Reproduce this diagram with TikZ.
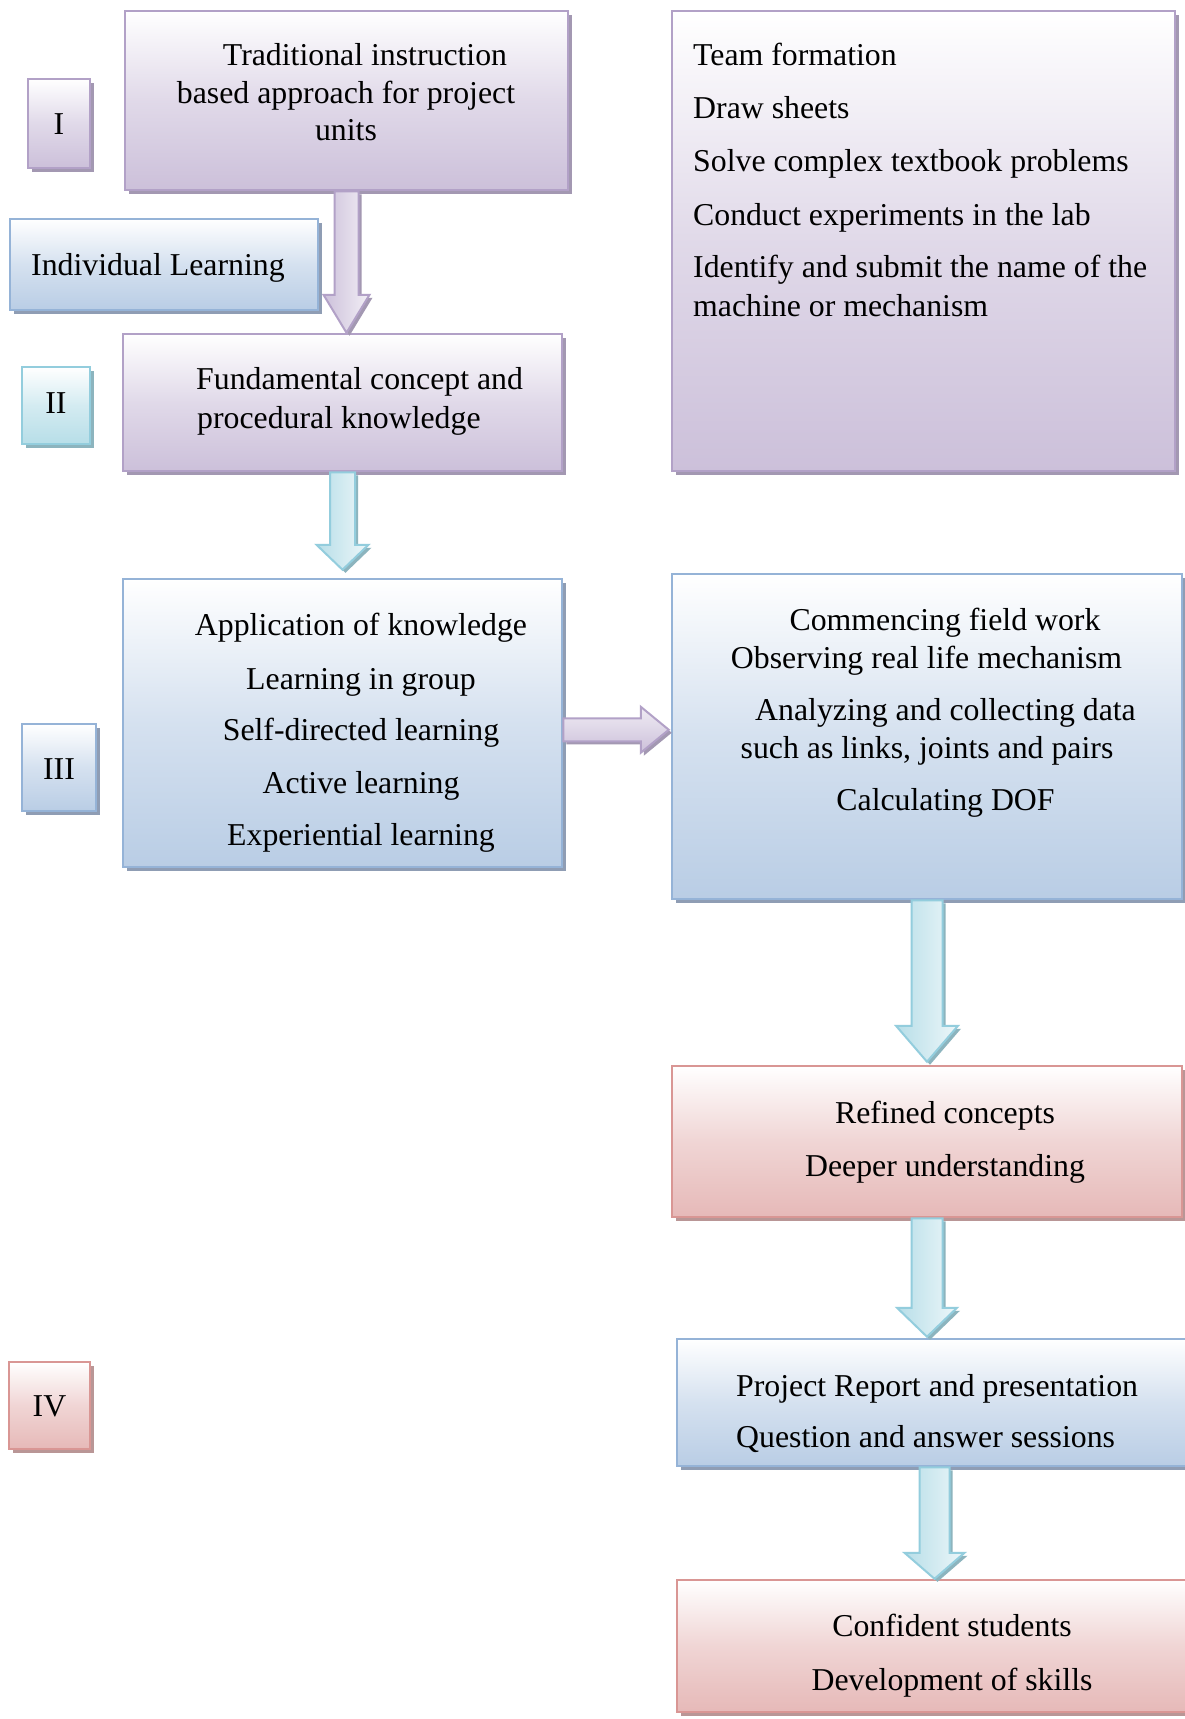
\documentclass[tikz,border=0pt]{standalone}
\usepackage{fontspec}
\setmainfont{Liberation Serif}
\usetikzlibrary{calc,shadows}
\definecolor{pb}{RGB}{204,192,218}
\definecolor{pbd}{RGB}{178,161,199}
\definecolor{psh}{RGB}{163,152,178}
\definecolor{bb}{RGB}{185,205,229}
\definecolor{bbd}{RGB}{149,179,215}
\definecolor{bsh}{RGB}{143,157,180}
\definecolor{rb}{RGB}{230,185,184}
\definecolor{rbd}{RGB}{217,150,148}
\definecolor{rsh}{RGB}{185,150,150}
\definecolor{ab}{RGB}{183,222,232}
\definecolor{abd}{RGB}{147,205,221}
\definecolor{ash}{RGB}{140,180,190}
\tikzset{
  boxbase/.style={rectangle, inner sep=0pt, line width=2.5pt, top color=white},
  pbox/.style={boxbase, draw=pbd, bottom color=pb, middle color=pb!60!white,
    general shadow={fill=psh, shadow xshift=4pt, shadow yshift=-4pt}},
  bbox/.style={boxbase, draw=bbd, bottom color=bb, middle color=bb!60!white,
    general shadow={fill=bsh, shadow xshift=4pt, shadow yshift=-4pt}},
  rbox/.style={boxbase, draw=rbd, bottom color=rb, middle color=rb!60!white,
    general shadow={fill=rsh, shadow xshift=4pt, shadow yshift=-4pt}},
  abox/.style={boxbase, draw=abd, bottom color=ab, middle color=ab!60!white,
    general shadow={fill=ash, shadow xshift=4pt, shadow yshift=-4pt}},
  parr/.style={draw=pbd, line width=2pt, line join=miter, left color=pb, right color=pb!25!white,
    general shadow={fill=psh, shadow xshift=3pt, shadow yshift=-3pt}},
  parrh/.style={draw=pbd, line width=2pt, line join=miter, top color=pb!30!white, bottom color=pb,
    general shadow={fill=psh, shadow xshift=3pt, shadow yshift=-3pt}},
  aarr/.style={draw=abd, line width=2pt, line join=miter, left color=ab, right color=ab!25!white,
    general shadow={fill=ash, shadow xshift=3pt, shadow yshift=-3pt}},
  txt/.style={inner sep=0pt, font=\fontsize{31.8pt}{38pt}\selectfont},
}
% box from corners (pixel coordinates, y downwards)
\newcommand\bx[6]{\node[#2, minimum width={(#5-#3)*1pt}, minimum height={(#6-#4)*1pt}] (#1) at ({(#3+#5)/2},{(#4+#6)/2}) {};}
% down block arrow: from, to, style, shaft half, head half, head length, gap
\newcommand\dnarr[7]{%
  \path[#3] let \p1=(#1.south), \p2=(#2.north) in
   (\x1-#4,\y1) -- (\x1-#4,\y2+#7+#6) -- (\x1-#5,\y2+#7+#6) -- (\x1,\y2+#7)
   -- (\x1+#5,\y2+#7+#6) -- (\x1+#4,\y2+#7+#6) -- (\x1+#4,\y1) -- cycle;}
% right block arrow: from, to, style, shaft half, head half, head length
\newcommand\rtarr[6]{%
  \path[#3] let \p1=(#1.east), \p2=(#2.west), \p3=($(#1.east)!.5!(#2.west)$) in
   (\x1,\y3+#4) -- (\x2-#6,\y3+#4) -- (\x2-#6,\y3+#5) -- (\x2-2pt,\y3)
   -- (\x2-#6,\y3-#5) -- (\x2-#6,\y3-#4) -- (\x1,\y3-#4) -- cycle;}
\begin{document}
\begin{tikzpicture}[x=1pt,y=-1pt]
\useasboundingbox (0,0) rectangle (1184,1719);
\fill[white] (0,0) rectangle (1184,1719);

% boxes
\bx{LI}{pbox}{28}{79}{90}{168}
\bx{T}{pbox}{125}{11}{568}{190}
\bx{R}{pbox}{672}{11}{1175}{471}
\bx{IL}{bbox}{10}{219}{318}{310}
\bx{F}{pbox}{123}{334}{562}{471}
\bx{LII}{abox}{22}{367}{90}{444}
\bx{AP}{bbox}{123}{579}{562}{867}
\bx{LIII}{bbox}{22}{724}{96}{811}
\bx{C}{bbox}{672}{574}{1182}{899}
\bx{RF}{rbox}{672}{1066}{1182}{1217}
\bx{P}{bbox}{677}{1339}{1192}{1466}
\bx{CS}{rbox}{677}{1580}{1192}{1712}
\bx{LIV}{rbox}{9}{1362}{90}{1449}

% arrows
\dnarr{T}{F}{parr}{12pt}{23pt}{38pt}{0pt}
\dnarr{F}{AP}{aarr}{12.5pt}{26pt}{25pt}{8pt}
\rtarr{AP}{C}{parrh}{11.5pt}{23pt}{30pt}
\dnarr{C}{RF}{aarr}{15.5pt}{31pt}{36pt}{3pt}
\dnarr{RF}{P}{aarr}{15.5pt}{30pt}{29pt}{1pt}
\dnarr{P}{CS}{aarr}{15pt}{30pt}{26pt}{0pt}

% texts
\node[txt, anchor=base] (t1) at (365,65) {Traditional instruction};
\node[txt, anchor=base] (t2) at (346,103) {based approach for project};
\node[txt, anchor=base] (t3) at (346,140) {units};

\node[txt, anchor=base west] (r1) at (693,65) {Team formation};
\node[txt, anchor=base west] (r2) at (693,118.5) {Draw sheets};
\node[txt, anchor=base west] (r3) at (693,171) {Solve complex textbook problems};
\node[txt, anchor=base west] (r4) at (693,225) {Conduct experiments in the lab};
\node[txt, anchor=base west] (r5) at (693,277.5) {Identify and submit the name of the};
\node[txt, anchor=base west] (r6) at (693,316) {machine or mechanism};

\node[txt, anchor=base west] (il) at (31,275) {Individual Learning};

\node[txt, anchor=base west] (f1) at (196,389) {Fundamental concept and};
\node[txt, anchor=base west] (f2) at (197,428) {procedural knowledge};

\node[txt, anchor=base] (lI) at (59,134) {I};
\node[txt, anchor=base] (lII) at (56,413) {II};
\node[txt, anchor=base] (lIII) at (59,779) {III};
\node[txt, anchor=base] (lIV) at (49.5,1416) {IV};

\node[txt, anchor=base] (a1) at (361,635) {Application of knowledge};
\node[txt, anchor=base] (a2) at (361,689) {Learning in group};
\node[txt, anchor=base] (a3) at (361,740) {Self-directed learning};
\node[txt, anchor=base] (a4) at (361,793) {Active learning};
\node[txt, anchor=base] (a5) at (361,845) {Experiential learning};

\node[txt, anchor=base] (c1) at (945,630.5) {Commencing field work};
\node[txt, anchor=base] (c2) at (926.5,668) {Observing real life mechanism};
\node[txt, anchor=base] (c3) at (945.5,720) {Analyzing and collecting data};
\node[txt, anchor=base] (c4) at (927,758) {such as links, joints and pairs};
\node[txt, anchor=base] (c5) at (945.5,810) {Calculating DOF};

\node[txt, anchor=base] (rf1) at (945,1123) {Refined concepts};
\node[txt, anchor=base] (rf2) at (945,1176) {Deeper understanding};

\node[txt, anchor=base west] (p1) at (736,1396) {Project Report and presentation};
\node[txt, anchor=base west] (p2) at (736,1447) {Question and answer sessions};

\node[txt, anchor=base] (cs1) at (952,1636) {Confident students};
\node[txt, anchor=base] (cs2) at (952,1690) {Development of skills};
\end{tikzpicture}
\end{document}
